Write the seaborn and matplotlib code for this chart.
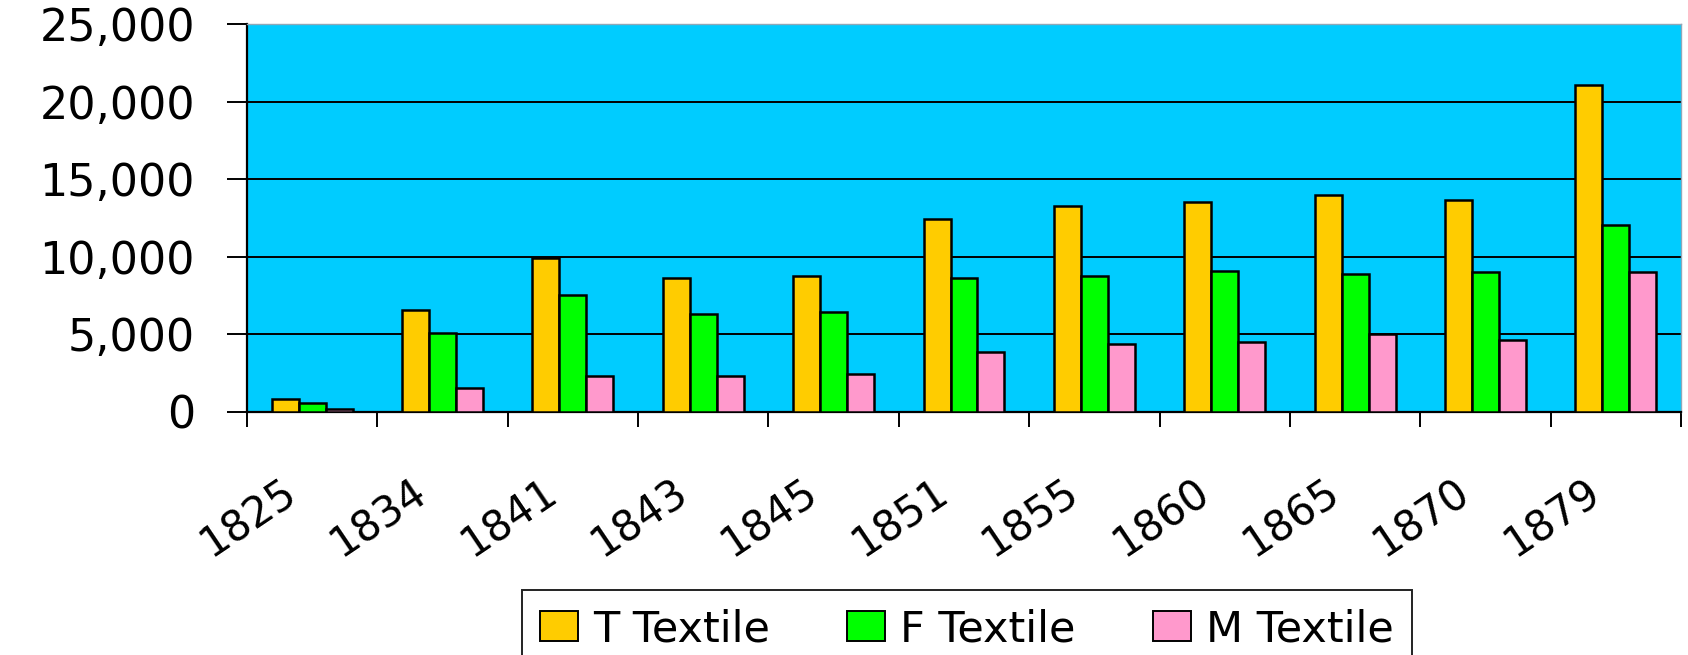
import numpy as np
import pandas as pd
import matplotlib
matplotlib.use("Agg")
import matplotlib.pyplot as plt
import matplotlib.ticker as mticker
from matplotlib.patches import Patch
from matplotlib.transforms import ScaledTranslation
import seaborn as sns

# Textile workforce by census year
years = ["1825", "1834", "1841", "1843", "1845", "1851",
         "1855", "1860", "1865", "1870", "1879"]
t_textile = [800, 6550, 9900, 8650, 8750, 12450, 13250, 13550, 13950, 13650, 21050]
f_textile = [550, 5050, 7500, 6300, 6400, 8650, 8750, 9050, 8900, 9000, 12050]
m_textile = [150, 1500, 2300, 2300, 2450, 3850, 4350, 4500, 5000, 4650, 9000]
series_names = ["T Textile", "F Textile", "M Textile"]
y_ticks = [0, 5000, 10000, 15000, 20000, 25000]

colors = ["#FFCC00", "#00FF00", "#FF99CC"]

df = pd.DataFrame({
    "year": years * 3,
    "series": [series_names[0]] * len(years) + [series_names[1]] * len(years)
              + [series_names[2]] * len(years),
    "value": t_textile + f_textile + m_textile,
})

sns.set_style("white")
plt.rcParams["font.family"] = ["DejaVu Sans"]
plt.rcParams["text.color"] = "black"
plt.rcParams["xtick.color"] = "black"
plt.rcParams["ytick.color"] = "black"
plt.rcParams["axes.labelcolor"] = "black"

W, H, DPI = 1688, 655, 100
fig = plt.figure(figsize=(W / DPI, H / DPI), dpi=DPI)
ax = fig.add_axes([247 / W, 1 - 411.7 / H, (1681 - 247) / W, (411.7 - 24) / H])
ax.set_facecolor("#00CCFF")

sns.barplot(data=df, x="year", y="value", hue="series", order=years,
            hue_order=series_names, palette=colors, saturation=1,
            width=0.62, edgecolor="black", linewidth=1.8, legend=False,
            ax=ax, zorder=3)

ax.set_xlim(-0.5, len(years) - 0.5)
ax.set_ylim(0, 25000)
ax.set_yticks(y_ticks)
ax.yaxis.set_major_formatter(mticker.FuncFormatter(lambda v, p: f"{int(v):,}"))
ax.set_xlabel("")
ax.set_ylabel("")

# horizontal gridlines (the top one coincides with the plot border)
ax.yaxis.grid(True, color="black", linewidth=1.4)
ax.set_axisbelow(True)
ax.yaxis.get_gridlines()[-1].set_visible(False)
ax.xaxis.grid(False)

for side in ("left", "bottom"):
    ax.spines[side].set_color("black")
    ax.spines[side].set_linewidth(1.6)
for side in ("top", "right"):
    ax.spines[side].set_color("#8fa8b8")
    ax.spines[side].set_linewidth(1.0)

# y ticks: outward marks with wide labels
ax.tick_params(axis="y", which="major", direction="out", length=14.4, width=1.4,
               color="black", labelcolor="black", pad=23, labelsize=32, left=True)

# x ticks: marks at category boundaries, labels at category centres
ax.set_xticks(np.arange(-0.5, len(years), 1.0), minor=True)
ax.tick_params(axis="x", which="minor", direction="out", length=10.8, width=1.4,
               color="black", bottom=True)
ax.tick_params(axis="x", which="major", length=0, pad=62.5, bottom=True,
               labelcolor="black")
offset = ScaledTranslation(-13 / DPI, 0, fig.dpi_scale_trans)
for lab in ax.get_xticklabels():
    lab.set_rotation(34)
    lab.set_ha("right")
    lab.set_va("baseline")
    lab.set_rotation_mode("anchor")
    lab.set_fontsize(30)
    lab.set_transform(lab.get_transform() + offset)

handles = [Patch(facecolor=c, edgecolor="black", linewidth=1.4) for c in colors]
leg = ax.legend(handles, series_names, loc="upper center",
                bbox_to_anchor=(967 / W, 1 - 590 / H), bbox_transform=fig.transFigure,
                ncol=3, frameon=True, fancybox=False, shadow=False,
                fontsize=31, handlelength=0.88, handleheight=0.68,
                handletextpad=0.35, columnspacing=1.8, borderpad=0.42,
                borderaxespad=0)
leg.get_frame().set_edgecolor("#222222")
leg.get_frame().set_linewidth(1.4)
leg.get_frame().set_facecolor("white")
leg.get_frame().set_alpha(1)
for txt in leg.get_texts():
    txt.set_color("black")

fig.savefig("out.png", dpi=DPI, facecolor="white")
